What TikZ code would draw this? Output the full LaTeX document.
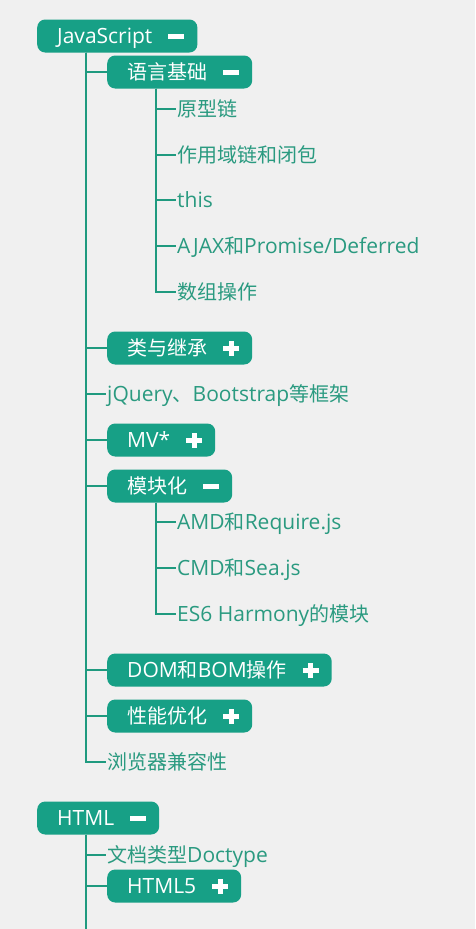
\documentclass[tikz,border=0pt]{standalone}
\usepackage{fontspec}
\newfontfamily\cjk{Noto Sans CJK SC}
\newfontfamily\latin[Scale=1.05]{Open Sans}
\definecolor{mmteal}{HTML}{17A086}
\definecolor{mmline}{HTML}{1F9A7F}
\definecolor{mmleaf}{HTML}{2A9A80}
\definecolor{mmbg}{HTML}{F0F0F0}
% fold / unfold signs
\newcommand{\foldsign}{\hspace{16pt}\rule[5pt]{16pt}{5pt}}
\newcommand{\unfoldsign}{\hspace{16pt}\makebox[16pt][l]{\rule[5pt]{16pt}{5pt}\hspace{-10.5pt}\rule[0pt]{5pt}{15pt}}}
\tikzset{
  topic/.style={fill=mmteal, rounded corners=8pt, text=white, anchor=west,
    minimum height=33pt, inner xsep=13pt, text height=17pt, text depth=2pt,
    font=\latin\fontsize{20}{20}\selectfont},
  leaf/.style={text=mmleaf, anchor=west, inner xsep=1pt, inner ysep=0pt,
    text height=17pt, text depth=2pt, font=\latin\fontsize{20}{20}\selectfont},
  branch/.style={draw=mmline, line width=2.5pt}
}
\begin{document}
\begin{tikzpicture}[x=1pt, y=-1pt]
  \fill[mmbg] (0,0) rectangle (475,929);
  \useasboundingbox (0,0) rectangle (475,929);
  % JavaScript
  \node[topic] (js) at (37,36) {\hspace{7pt}JavaScript\foldsign};
  \node[topic] (basic) at (107,72) {\hspace{7pt}{\cjk 语言基础}\foldsign};
    \node[leaf] (proto) at (176,109) {\cjk 原型链};
    \node[leaf] (scope) at (176,155) {\cjk 作用域链和闭包};
    \node[leaf] (this) at (176,200) {this};
    \node[leaf] (ajax) at (176,246) {AJAX{\cjk 和}Promise/Deferred};
    \node[leaf] (array) at (176,292) {\cjk 数组操作};
  \node[topic] (class) at (107,348) {\hspace{7pt}{\cjk 类与继承}\unfoldsign};
  \node[leaf] (jquery) at (106,394) {jQuery{\cjk 、}Bootstrap{\cjk 等框架}};
  \node[topic] (mv) at (107,440) {\hspace{7pt}MV*\unfoldsign};
  \node[topic] (module) at (107,486) {\hspace{7pt}{\cjk 模块化}\foldsign};
    \node[leaf] (amd) at (176,522) {AMD{\cjk 和}Require.js};
    \node[leaf] (cmd) at (176,568) {CMD{\cjk 和}Sea.js};
    \node[leaf] (es6) at (176,614) {ES6 Harmony{\cjk 的模块}};
  \node[topic] (dom) at (107,670) {\hspace{7pt}DOM{\cjk 和}BOM{\cjk 操作}\unfoldsign};
  \node[topic] (perf) at (107,716) {\hspace{7pt}{\cjk 性能优化}\unfoldsign};
  \node[leaf] (compat) at (106,762) {\cjk 浏览器兼容性};
  % HTML
  \node[topic] (html) at (37,818) {\hspace{7pt}HTML\foldsign};
  \node[leaf] (doctype) at (106,855) {{\cjk 文档类型}Doctype};
  \node[topic] (html5) at (107,886) {\hspace{7pt}HTML5\unfoldsign};
  \coordinate (htmlend) at (86,929);
  % connectors
  \foreach \child in {basic,class,jquery,mv,module,dom,perf,compat}
    \draw[branch] ([xshift=49pt]js.south west) |- (\child.west);
  \foreach \child in {proto,scope,this,ajax,array}
    \draw[branch] ([xshift=49pt]basic.south west) |- (\child.west);
  \foreach \child in {amd,cmd,es6}
    \draw[branch] ([xshift=49pt]module.south west) |- (\child.west);
  \foreach \child in {doctype,html5}
    \draw[branch] ([xshift=49pt]html.south west) |- (\child.west);
  \draw[branch] ([xshift=49pt]html.south west) -- (htmlend);
\end{tikzpicture}
\end{document}
